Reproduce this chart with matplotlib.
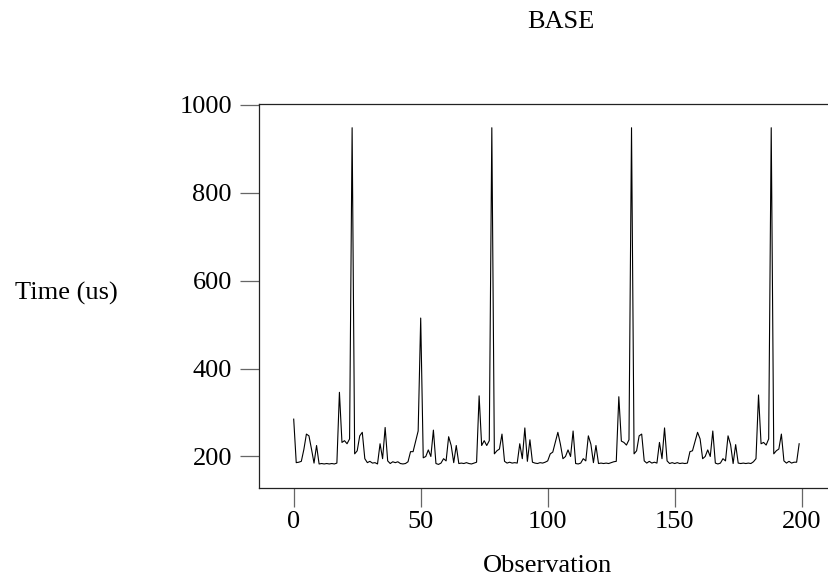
import matplotlib
matplotlib.use("Agg")
import matplotlib.pyplot as plt

observation = list(range(200))
time_us = [
    285, 186, 187, 189, 216, 251, 247, 217, 185, 225,
    183, 184, 183, 184, 183, 184, 183, 185, 346, 232,
    236, 229, 240, 948, 206, 213, 247, 255, 195, 186,
    189, 185, 186, 183, 229, 195, 266, 190, 184, 188,
    186, 188, 184, 183, 184, 188, 211, 211, 234, 258,
    515, 197, 200, 215, 200, 260, 184, 182, 185, 195,
    190, 245, 225, 186, 225, 184, 185, 184, 186, 184,
    183, 185, 187, 338, 225, 236, 225, 236, 948, 206,
    213, 217, 251, 189, 185, 187, 185, 186, 185, 229,
    195, 265, 189, 238, 187, 185, 184, 186, 185, 187,
    190, 206, 210, 233, 255, 228, 195, 200, 215, 200,
    258, 184, 183, 185, 195, 190, 247, 228, 186, 225,
    184, 185, 184, 185, 184, 186, 188, 189, 336, 235,
    232, 226, 238, 948, 206, 213, 247, 251, 190, 185,
    189, 185, 187, 185, 232, 195, 265, 190, 184, 186,
    184, 186, 184, 185, 184, 185, 211, 213, 234, 255,
    240, 195, 200, 215, 200, 258, 185, 183, 185, 195,
    190, 247, 227, 184, 227, 185, 184, 185, 184, 185,
    184, 188, 195, 340, 229, 232, 226, 240, 948, 206,
    213, 217, 251, 190, 185, 189, 185, 187, 187, 229,
]
x_ticks = [0, 50, 100, 150, 200]
y_ticks = [200, 400, 600, 800, 1000]

plt.rcParams['font.family'] = ['Liberation Serif', 'DejaVu Serif']

W, H = 829, 579
fig = plt.figure(figsize=(W / 100, H / 100), dpi=100)

left_px, right_px, top_px, bot_px = 259, 850, 104, 487.7
ax = fig.add_axes([left_px / W, 1 - bot_px / H, (right_px - left_px) / W, (bot_px - top_px) / H])

ax.plot(observation, time_us, color='black', linewidth=0.8)

px_per_x = 2.54
x0_px = 293.7
ax.set_xlim((left_px - x0_px) / px_per_x, (right_px - x0_px) / px_per_x)
ax.set_ylim(129, 1002)

ax.set_xticks(x_ticks)
ax.set_yticks(y_ticks)
ax.tick_params(axis='both', direction='out', length=13.5, width=0.9, color='#666666',
               labelsize=19, labelcolor='black')
ax.tick_params(axis='x', pad=3)
ax.tick_params(axis='y', pad=6)
for s in ['left', 'bottom', 'top']:
    ax.spines[s].set_linewidth(0.9)
    ax.spines[s].set_color('#222222')
ax.spines['right'].set_visible(False)

fig.text(561 / W, 1 - 22 / H, 'BASE', ha='center', va='center', fontsize=19)
fig.text(66 / W, 1 - 293 / H, 'Time (us)', ha='center', va='center', fontsize=19)
fig.text(547 / W, 1 - 566 / H, 'Observation', ha='center', va='center', fontsize=19)

fig.savefig('out.png', dpi=100)
